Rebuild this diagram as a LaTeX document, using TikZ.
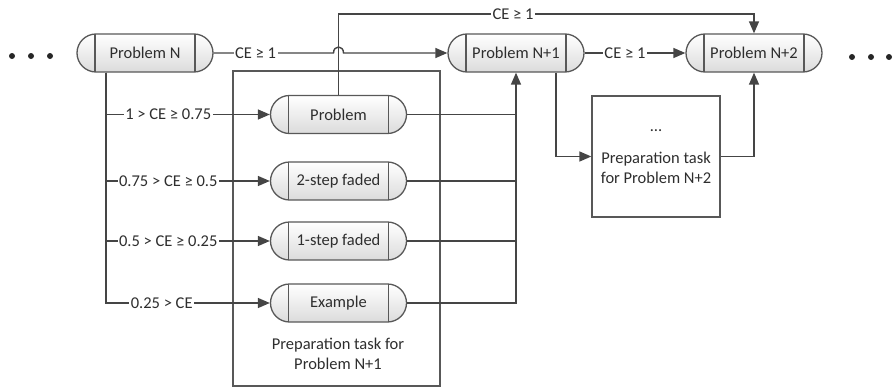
\documentclass[tikz,border=0pt]{standalone}
\usepackage{fontspec}
\setmainfont{Carlito}
\usetikzlibrary{shapes.misc,arrows.meta,calc}
\definecolor{linec}{HTML}{454545}
\definecolor{nodec}{HTML}{585858}
\definecolor{textc}{HTML}{2E2E2E}
\tikzset{
  ln/.style={draw=linec, line width=1.4pt},
  arr/.style={ln, -{Triangle[length=12pt,width=10pt]}},
  stad/.style={rounded rectangle, draw=nodec, line width=1.3pt,
    minimum width=136pt, minimum height=38pt, inner sep=0pt,
    top color=white, bottom color=black!14, text=textc,
    font=\fontsize{16.5}{20}\selectfont,
    path picture={\draw[nodec,line width=1.3pt]
      ([xshift=18pt]path picture bounding box.north west) -- ([xshift=18pt]path picture bounding box.south west)
      ([xshift=-18pt]path picture bounding box.north east) -- ([xshift=-18pt]path picture bounding box.south east);}},
  boxn/.style={draw=nodec, line width=1.3pt, rectangle, inner sep=0pt},
  lbl/.style={fill=white, inner sep=1.5pt, text=textc, font=\fontsize{16.5}{20}\selectfont},
  txt/.style={align=center, text=textc, font=\fontsize{16.5}{20}\selectfont},
  dotn/.style={circle, fill=black!85, inner sep=0pt, minimum size=6pt},
}
\begin{document}
\begin{tikzpicture}[x=1pt,y=1pt]
\useasboundingbox (0,0) rectangle (894,-388);
% big preparation box
\node[boxn, minimum width=207pt, minimum height=315pt] (b1) at (336.5,-228.5) {};
\node[txt] (b1t) at (338,-354) {Preparation task for\\Problem N+1};
% second preparation box
\node[boxn, minimum width=128pt, minimum height=121pt, txt] (b2) at (656,-156.5)
  {\rule{0pt}{0pt}…\\[12pt]Preparation task\\for Problem N+2};
% problem nodes
\node[stad] (pn)  at (145,-53) {Problem N};
\node[stad] (pn1) at (516,-53) {Problem N+1};
\node[stad] (pn2) at (754,-53) {Problem N+2};
\node[stad] (pr)  at (338.5,-114.5) {Problem};
\node[stad] (ts)  at (338.5,-181) {2-step faded};
\node[stad] (os)  at (338.5,-241) {1-step faded};
\node[stad] (ex)  at (338.5,-303) {Example};
% dots
\node[dotn] (l1) at (12,-56) {};
\node[dotn] (l2) at (31,-56) {};
\node[dotn] (l3) at (50,-56) {};
\node[dotn] (r1) at (852,-57) {};
\node[dotn] (r2) at (871,-57) {};
\node[dotn] (r3) at (889,-57) {};
% connectors
\coordinate (j) at (pr.north |- pn.east);
\draw[arr] (pn.east) -- node[lbl, pos=0.35]{CE ≥ 1} ([xshift=-5pt]j)
  .. controls +(0,8) and +(0,8) .. ([xshift=5pt]j) -- (pn1.west);
\draw[arr] (pr.north) -- (pr.north |- 0,-14) -| node[lbl, pos=0.21]{CE ≥ 1} (pn2.north);
\draw[arr] (pn1.east) -- node[lbl, pos=0.4]{CE ≥ 1} (pn2.west);
\draw[arr] ([xshift=40pt]pn1.south) |- (b2.west);
\draw[arr] (b2.east) -| (pn2.south);
% branches from Problem N
\coordinate (bs) at ([xshift=-39pt]pn.south);
\draw[arr] (bs) |- node[lbl, pos=0.69]{1 > CE ≥ 0.75} (pr.west);
\draw[arr] (bs) |- node[lbl, pos=0.69]{0.75 > CE ≥ 0.5} (ts.west);
\draw[arr] (bs) |- node[lbl, pos=0.69]{0.5 > CE ≥ 0.25} (os.west);
\draw[arr] (bs) |- node[lbl, pos=0.67]{0.25 > CE} (ex.west);
% joins to Problem N+1
\draw[arr] (ex.east) -| (pn1.south);
\draw[ln] (pr.east) -- (pr.east -| pn1.south);
\draw[ln] (ts.east) -- (ts.east -| pn1.south);
\draw[ln] (os.east) -- (os.east -| pn1.south);
\end{tikzpicture}
\end{document}
